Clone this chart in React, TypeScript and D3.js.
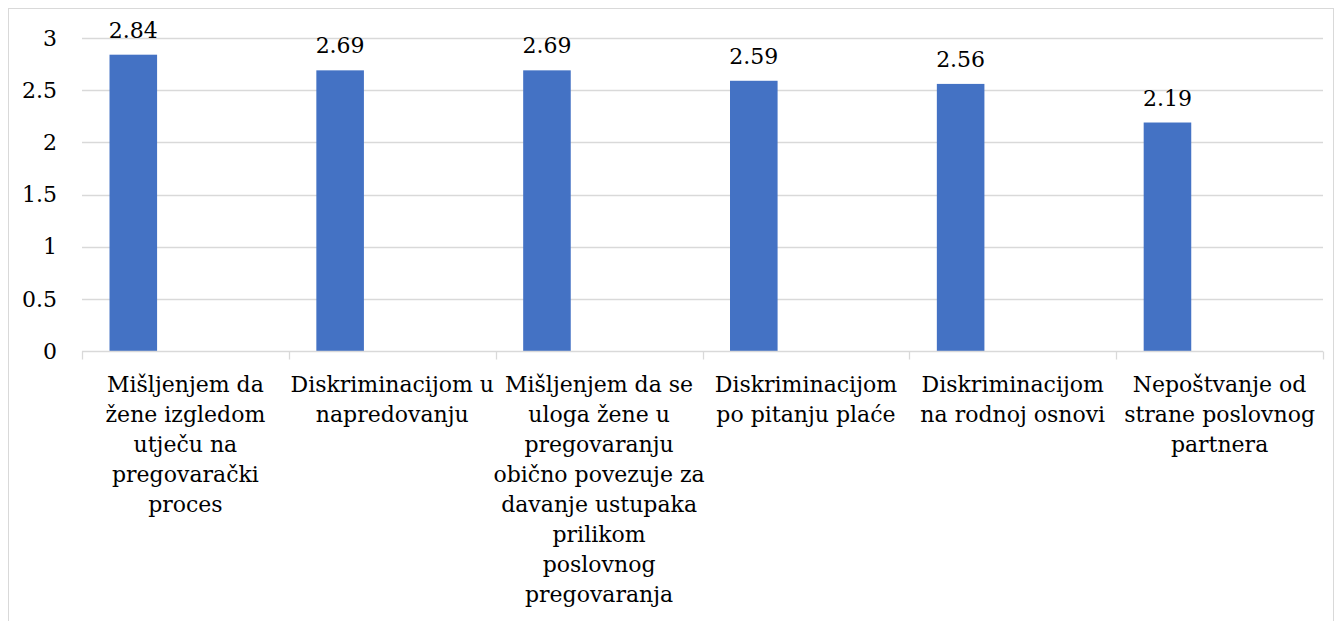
import React, { useEffect, useRef } from 'react'
import * as d3 from 'd3'

// categories (already wrapped the way the original shows them)
const categories = [
  ['Mišljenjem da', 'žene izgledom', 'utječu na', 'pregovarački', 'proces'],
  ['Diskriminacijom u', 'napredovanju'],
  ['Mišljenjem da se', 'uloga žene u', 'pregovaranju', 'obično povezuje za', 'davanje ustupaka', 'prilikom', 'poslovnog', 'pregovaranja'],
  ['Diskriminacijom', 'po pitanju plaće'],
  ['Diskriminacijom', 'na rodnoj osnovi'],
  ['Nepoštvanje od', 'strane poslovnog', 'partnera']
]
const values = [2.84, 2.69, 2.69, 2.59, 2.56, 2.19]
const yTicks = [0, 0.5, 1, 1.5, 2, 2.5, 3]

const W = 1342
const H = 621

function App() {
  const anchor = useRef<SVGSVGElement | null>(null)

  useEffect(() => {
    const svg = d3.select(anchor.current)
    svg.selectAll('*').remove()

    const margin = { top: 38, right: 19, bottom: 270, left: 82 }
    const grey = '#d9d9d9'

    // outer chart frame
    svg
      .append('rect')
      .attr('x', 8.5)
      .attr('y', 8.5)
      .attr('width', 1325)
      .attr('height', 700)
      .attr('fill', 'none')
      .attr('stroke', grey)

    const idx = categories.map((d, i) => i)
    const x = d3
      .scaleBand<number>()
      .domain(idx)
      .range([margin.left, W - margin.right])

    const y = d3
      .scaleLinear()
      .domain([0, 3])
      .range([H - margin.bottom, margin.top])

    // gridlines
    svg
      .append('g')
      .selectAll('line')
      .data(yTicks.filter(t => t > 0))
      .enter()
      .append('line')
      .attr('x1', margin.left)
      .attr('x2', W - margin.right)
      .attr('y1', d => Math.round(y(d)) + 0.5)
      .attr('y2', d => Math.round(y(d)) + 0.5)
      .attr('stroke', grey)
      .attr('stroke-width', 1.3)

    // y tick labels
    svg
      .append('g')
      .selectAll('text')
      .data(yTicks)
      .enter()
      .append('text')
      .attr('x', 57)
      .attr('y', d => y(d))
      .attr('dy', '0.35em')
      .attr('text-anchor', 'end')
      .attr('fill', '#000')
      .text(d => String(d))

    // bars sit in the left part of each band
    const barOff = x.bandwidth() * 0.133
    const barW = x.bandwidth() * 0.23

    svg
      .append('g')
      .selectAll('rect')
      .data(values)
      .enter()
      .append('rect')
      .attr('x', (d, i) => (x(i) as number) + barOff)
      .attr('width', barW)
      .attr('y', d => y(d))
      .attr('height', d => y(0) - y(d))
      .attr('fill', '#4472c4')

    // value labels
    svg
      .append('g')
      .selectAll('text')
      .data(values)
      .enter()
      .append('text')
      .attr('x', (d, i) => (x(i) as number) + barOff + barW / 2)
      .attr('y', d => y(d) - 17)
      .attr('text-anchor', 'middle')
      .attr('fill', '#000')
      .text(d => d.toFixed(2))

    // x axis line + ticks
    const axisY = Math.round(y(0)) + 0.5
    const ax = svg.append('g')
    ax.append('line')
      .attr('x1', margin.left)
      .attr('x2', W - margin.right)
      .attr('y1', axisY)
      .attr('y2', axisY)
      .attr('stroke', grey)
      .attr('stroke-width', 1.3)
    ax.selectAll('line.tick')
      .data(idx.concat([idx.length]))
      .enter()
      .append('line')
      .attr('class', 'tick')
      .attr('x1', d => Math.round(margin.left + d * x.bandwidth()) + 0.5)
      .attr('x2', d => Math.round(margin.left + d * x.bandwidth()) + 0.5)
      .attr('y1', axisY)
      .attr('y2', axisY + 8)
      .attr('stroke', grey)
      .attr('stroke-width', 1.3)

    // category labels
    const lab = svg
      .append('g')
      .selectAll('text')
      .data(categories)
      .enter()
      .append('text')
      .attr('text-anchor', 'middle')
      .attr('fill', '#000')
    lab
      .selectAll('tspan')
      .data((d, i) => d.map(line => ({ line, i })))
      .enter()
      .append('tspan')
      .attr('x', d => (x(d.i) as number) + x.bandwidth() / 2)
      .attr('y', (d, j) => axisY + 40 + j * 30)
      .text(d => d.line)
  }, [])

  return (
    <svg
      ref={anchor}
      width={W}
      height={H}
      style={{
        position: 'absolute',
        left: 0,
        top: 0,
        background: '#fff',
        fontFamily: "'DejaVu Serif', serif",
        fontSize: 22
      }}
    />
  )
}

export default App
